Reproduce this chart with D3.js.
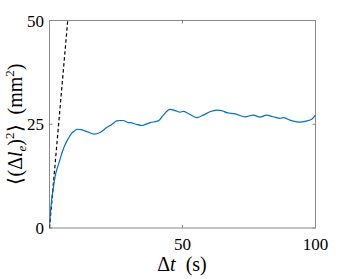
<!DOCTYPE html>
<html>
<head>
<meta charset="utf-8">
<script src="https://cdn.jsdelivr.net/npm/d3@7"></script>
<style>
  body { margin: 0; background: #fff; }
</style>
</head>
<body>
<div id="chart"></div>
<script>
const tVals = [0, 0.3, 0.56, 0.8, 1.3, 2.1, 3, 3.9, 4.8, 5.8, 7, 8.3, 9.4, 10.5, 12, 13.3, 15, 16.8, 19, 21.5, 23.5, 25.3, 26.5, 27.7, 29.6, 30.3, 32.5, 34.7, 37.8, 40.9, 42.8, 45.3, 47.2, 49.1, 50.3, 52.2, 55.3, 57.8, 60.3, 62.9, 64.7, 66.6, 68.5, 70.4, 73.5, 76.6, 79.1, 81.6, 84.1, 86.7, 87.9, 90.4, 94.2, 96.7, 98.6, 100];
const msdVals = [0, 3.3, 5.1, 6.7, 9, 12.4, 14.6, 16.4, 18.3, 20, 21.5, 22.8, 23.4, 23.8, 23.7, 23.4, 23, 22.6, 23, 24.2, 25, 25.8, 25.9, 25.9, 25.4, 25.4, 25, 24.7, 25.4, 25.8, 27.2, 28.6, 28.3, 27.9, 28.1, 27.6, 26.6, 27.2, 28, 28.4, 28.3, 27.8, 27.6, 27.4, 26.8, 27.2, 26.7, 27.2, 26.8, 26.4, 26.6, 26, 25.5, 25.8, 26.2, 27.2];
// dashed reference line
const fitT = [0, 6.85];
const fitY = [0, 50];
const xTicks = [50, 100];
const yTicks = [0, 25, 50];

const W = 349, H = 279;
const m = { left: 49.5, right: 33.5, top: 20.5, bottom: 51 };
const serif = "Liberation Serif";

const svg = d3.select("#chart").append("svg")
  .attr("width", W)
  .attr("height", H)
  .style("font-family", serif);

const x = d3.scaleLinear().domain([0, 100]).range([m.left, W - m.right]);
const y = d3.scaleLinear().domain([0, 50]).range([H - m.bottom, m.top]);

svg.append("defs").append("clipPath").attr("id", "clip")
  .append("rect")
  .attr("x", x(0)).attr("y", y(50))
  .attr("width", x(100) - x(0)).attr("height", y(0) - y(50));

// box
svg.append("rect")
  .attr("x", x(0)).attr("y", y(50))
  .attr("width", x(100) - x(0)).attr("height", y(0) - y(50))
  .attr("fill", "none")
  .attr("stroke", "#8a8a8a")
  .attr("stroke-width", 1);

// ticks inside, on both sides (box on)
const tk = 3;
xTicks.forEach(v => {
  svg.append("line").attr("x1", x(v)).attr("x2", x(v)).attr("y1", y(0)).attr("y2", y(0) - tk)
    .attr("stroke", "#8a8a8a");
  svg.append("line").attr("x1", x(v)).attr("x2", x(v)).attr("y1", y(50)).attr("y2", y(50) + tk)
    .attr("stroke", "#8a8a8a");
  svg.append("text")
    .attr("x", x(v)).attr("y", 250)
    .attr("text-anchor", "middle")
    .style("font-family", serif)
    .style("font-size", "17px")
    .text(v);
});
yTicks.forEach(v => {
  svg.append("line").attr("x1", x(0)).attr("x2", x(0) + tk).attr("y1", y(v)).attr("y2", y(v))
    .attr("stroke", "#8a8a8a");
  svg.append("line").attr("x1", x(100)).attr("x2", x(100) - tk).attr("y1", y(v)).attr("y2", y(v))
    .attr("stroke", "#8a8a8a");
  svg.append("text")
    .attr("x", 44).attr("y", y(v) + 6)
    .attr("text-anchor", "end")
    .style("font-family", serif)
    .style("font-size", "17px")
    .text(v);
});

const plot = svg.append("g").attr("clip-path", "url(#clip)");

const line = d3.line()
  .x(d => x(d[0]))
  .y(d => y(d[1]))
  .curve(d3.curveMonotoneX);

plot.append("path")
  .datum(d3.zip(fitT, fitY))
  .attr("d", d3.line().x(d => x(d[0])).y(d => y(d[1])))
  .attr("fill", "none")
  .attr("stroke", "#000")
  .attr("stroke-width", 1.2)
  .attr("stroke-dasharray", "3.5,2.5");

plot.append("path")
  .datum(d3.zip(tVals, msdVals))
  .attr("d", line)
  .attr("fill", "none")
  .attr("stroke", "#0072BD")
  .attr("stroke-width", 1.2);

// x label: Δt (s)
const xl = svg.append("text")
  .attr("x", 182).attr("y", 271)
  .attr("text-anchor", "middle")
  .style("font-family", serif)
  .style("font-size", "20px")
  .style("white-space", "pre");
xl.append("tspan").text("Δ");
xl.append("tspan").style("font-style", "italic").text("t");
xl.append("tspan").text("  (s)");

// y label: ⟨(Δl_e)²⟩ (mm²)
const yl = svg.append("text")
  .attr("transform", "translate(22," + 124 + ")rotate(-90)")
  .attr("text-anchor", "middle")
  .style("font-family", serif)
  .style("font-size", "20px")
  .style("white-space", "pre");
yl.append("tspan").text("⟨(Δ");
yl.append("tspan").style("font-style", "italic").text("l");
yl.append("tspan").style("font-style", "italic").style("font-size", "13px").attr("dy", 4).text("e");
yl.append("tspan").attr("dy", -4).text(")");
yl.append("tspan").style("font-size", "13px").attr("dy", -8).text("2");
yl.append("tspan").attr("dy", 8).text("⟩  (mm");
yl.append("tspan").style("font-size", "13px").attr("dy", -8).text("2");
yl.append("tspan").attr("dy", 8).text(")");
</script>
</body>
</html>
